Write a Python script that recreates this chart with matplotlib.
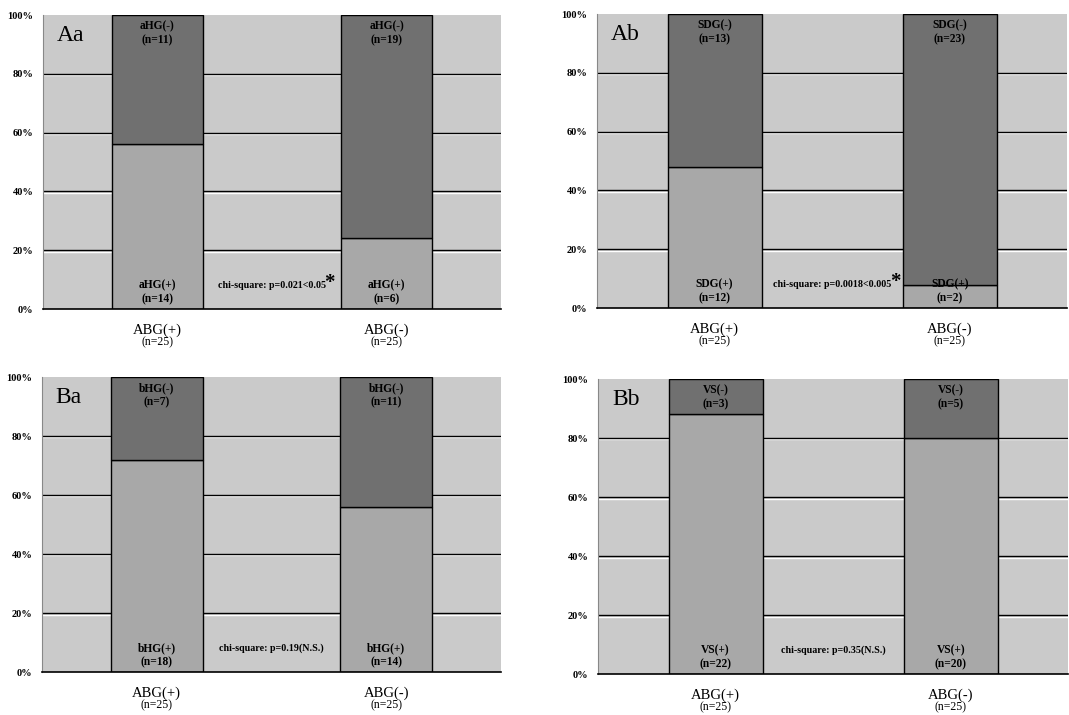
import matplotlib
matplotlib.use("Agg")
import matplotlib.pyplot as plt

plt.rcParams['font.family'] = ['Liberation Serif', 'DejaVu Serif']

# groups on the x axis
groups = ["ABG(+)", "ABG(-)"]
group_n = [25, 25]

# counts per panel: positive (bottom segment) / negative (top segment)
aa_pos = [14, 6]
aa_neg = [11, 19]
ab_pos = [12, 2]
ab_neg = [13, 23]
ba_pos = [18, 14]
ba_neg = [7, 11]
bb_pos = [22, 20]
bb_neg = [3, 5]

panel_names = ["Aa", "Ab", "Ba", "Bb"]
panel_markers = ["aHG", "SDG", "bHG", "VS"]
chi_texts = ["chi-square: p=0.021<0.05", "chi-square: p=0.0018<0.005",
             "chi-square: p=0.19(N.S.)", "chi-square: p=0.35(N.S.)"]
significant = [True, True, False, False]

BG = "#cacaca"
LIGHT = "#a8a8a8"
DARK = "#707070"

fig = plt.figure(figsize=(10.69, 7.15), dpi=100)
fig.patch.set_facecolor("white")

# axes rectangles in figure fractions
rects = [
    [0.0402, 0.5678, 0.4285, 0.4112],
    [0.5585, 0.5692, 0.4400, 0.4112],
    [0.0393, 0.0601, 0.4294, 0.4126],
    [0.5594, 0.0573, 0.4400, 0.4126],
]
pos_all = [aa_pos, ab_pos, ba_pos, bb_pos]
neg_all = [aa_neg, ab_neg, ba_neg, bb_neg]

for k in range(4):
    ax = fig.add_axes(rects[k])
    ax.set_facecolor(BG)
    pos = pos_all[k]
    neg = neg_all[k]
    x = list(range(len(groups)))
    pos_pct = [100.0 * p / (p + n) for p, n in zip(pos, neg)]
    neg_pct = [100.0 * n / (p + n) for p, n in zip(pos, neg)]

    # horizontal grid with a white highlight just under each line
    for yv in [20, 40, 60, 80]:
        ax.axhline(yv - 0.5, color="white", lw=1.0, zorder=1)
        ax.axhline(yv, color="black", lw=1.0, zorder=1)

    ax.bar(x, pos_pct, width=0.4, color=LIGHT, edgecolor="black", lw=1.0, zorder=2)
    ax.bar(x, neg_pct, width=0.4, bottom=pos_pct, color=DARK, edgecolor="black", lw=1.0, zorder=2)

    m = panel_markers[k]
    for i in x:
        ax.text(i, 5.6, f"{m}(+)\n(n={pos[i]})", ha="center", va="center",
                fontsize=8.3, fontweight="bold", linespacing=1.2, zorder=3)
        ax.text(i, 93.7, f"{m}(-)\n(n={neg[i]})", ha="center", va="center",
                fontsize=8.3, fontweight="bold", linespacing=1.2, zorder=3)

    chi = ax.text(0.5, 8.0, chi_texts[k], ha="center", va="center",
                  fontsize=7.2, fontweight="bold", zorder=3)
    if significant[k]:
        ax.annotate("*", xy=(1, 0.5), xycoords=chi, xytext=(-1, 2),
                    textcoords="offset points", ha="left", va="center",
                    fontsize=15, fontweight="bold")

    ax.text(0.03, 0.93, panel_names[k], transform=ax.transAxes,
            ha="left", va="center", fontsize=17)

    ax.set_xlim(-0.5, 1.5)
    ax.set_ylim(0, 100)
    ax.set_yticks([0, 20, 40, 60, 80, 100])
    ax.set_yticklabels([f"{v}%" for v in [0, 20, 40, 60, 80, 100]],
                       fontsize=7.5, fontweight="bold")
    ax.tick_params(axis="y", length=0, pad=7)
    ax.set_xticks([])

    # group names under the bars
    for i in x:
        ax.text(i, -0.071, groups[i], transform=ax.get_xaxis_transform(),
                ha="center", va="center", fontsize=10.5)
        ax.text(i, -0.112, f"(n={group_n[i]})", transform=ax.get_xaxis_transform(),
                ha="center", va="center", fontsize=8.5)

    ax.spines["top"].set_visible(False)
    ax.spines["right"].set_visible(False)
    ax.spines["left"].set_color("#888888")
    ax.spines["left"].set_linewidth(0.8)
    ax.spines["bottom"].set_color("black")
    ax.spines["bottom"].set_linewidth(1.2)

fig.savefig("out.png", dpi=100)
